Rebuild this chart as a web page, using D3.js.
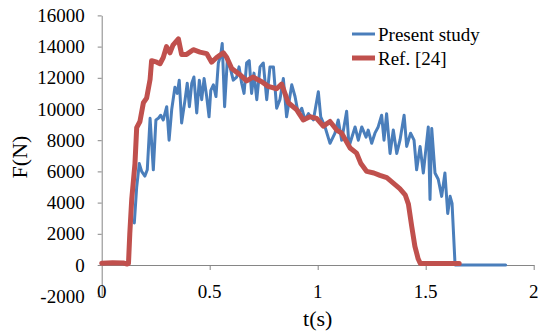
<!DOCTYPE html>
<html>
<head>
<meta charset="utf-8">
<script src="https://cdn.jsdelivr.net/npm/d3@7"></script>
<style>
  body { margin: 0; background: #fff; }
  text { font-family: "Liberation Serif", "Times New Roman", serif; fill: #000; }
</style>
</head>
<body>
<div id="chart"></div>
<script>
// series: Present study (blue)
const blueT = [0.151, 0.162, 0.174, 0.185, 0.2, 0.211, 0.224, 0.239, 0.251, 0.262, 0.273, 0.285, 0.301, 0.312, 0.324, 0.339, 0.35, 0.359, 0.37, 0.386, 0.396, 0.406, 0.417, 0.427, 0.44, 0.452, 0.463, 0.474, 0.486, 0.497, 0.505, 0.517, 0.529, 0.54, 0.551, 0.558, 0.569, 0.582, 0.594, 0.609, 0.625, 0.636, 0.648, 0.659, 0.671, 0.683, 0.694, 0.705, 0.718, 0.733, 0.748, 0.764, 0.779, 0.795, 0.81, 0.825, 0.841, 0.856, 0.88, 0.895, 0.91, 0.926, 0.941, 0.957, 0.98, 1.003, 1.014, 1.034, 1.057, 1.08, 1.095, 1.111, 1.134, 1.145, 1.173, 1.188, 1.204, 1.224, 1.234, 1.25, 1.265, 1.28, 1.296, 1.307, 1.319, 1.335, 1.35, 1.366, 1.381, 1.4, 1.412, 1.43, 1.446, 1.458, 1.474, 1.489, 1.512, 1.52, 1.528, 1.543, 1.558, 1.574, 1.589, 1.602, 1.613, 1.622, 1.636, 1.87];
const blueF = [2700, 5000, 6500, 6000, 5700, 6100, 9400, 6100, 9300, 9400, 9600, 9300, 10150, 8000, 9950, 11400, 11000, 11850, 9100, 10600, 11650, 10150, 11650, 12050, 9750, 11850, 10600, 11950, 10800, 9500, 11200, 11550, 10800, 12950, 13450, 14200, 10150, 13250, 12700, 11850, 12050, 12700, 11650, 11000, 12950, 13100, 11000, 12300, 10600, 12700, 12950, 10600, 12700, 12700, 10050, 10600, 11950, 9500, 11550, 10800, 9700, 10050, 9300, 9700, 9300, 11100, 9500, 8850, 7800, 8450, 9300, 8000, 9850, 7600, 8850, 8000, 8850, 8200, 8650, 7800, 8450, 8850, 9600, 8000, 9700, 7150, 8650, 7150, 8000, 9600, 7600, 8450, 8000, 6100, 7600, 5900, 8850, 4200, 8750, 5900, 5500, 4400, 5900, 3300, 4400, 3950, 0, 0];

// series: Ref. [24] (red)
const redT = [0, 0.05, 0.1, 0.118, 0.124, 0.13, 0.139, 0.154, 0.162, 0.177, 0.193, 0.208, 0.224, 0.231, 0.255, 0.27, 0.285, 0.3, 0.316, 0.33, 0.355, 0.37, 0.393, 0.424, 0.455, 0.486, 0.509, 0.532, 0.563, 0.579, 0.602, 0.64, 0.671, 0.7, 0.741, 0.771, 0.81, 0.833, 0.864, 0.903, 0.933, 0.964, 0.995, 1.026, 1.057, 1.088, 1.111, 1.15, 1.18, 1.2, 1.227, 1.26, 1.288, 1.32, 1.35, 1.38, 1.405, 1.42, 1.435, 1.45, 1.465, 1.475, 1.55, 1.655];
const redF = [120, 150, 130, 60, 100, 2000, 4200, 6500, 8800, 9200, 10400, 10700, 11900, 13100, 13000, 12900, 13300, 14000, 13600, 14100, 14500, 13500, 13500, 13800, 13650, 13550, 13000, 13300, 13600, 13300, 12600, 12200, 11800, 12050, 11750, 11450, 11300, 11600, 10400, 9950, 9300, 9500, 9400, 8900, 9200, 8650, 8450, 7500, 7170, 6500, 6000, 5900, 5750, 5600, 5250, 4900, 4500, 3900, 2500, 1200, 400, 100, 100, 100];

const xTicks = [0, 0.5, 1, 1.5, 2];
const yTicks = [-2000, 0, 2000, 4000, 6000, 8000, 10000, 12000, 14000, 16000];
const seriesNames = ["Present study", "Ref. [24]"];

const W = 538, H = 331;
const blue = "#4a7ebb", red = "#c0504d", axisGray = "#868686";

const svg = d3.select("#chart").append("svg")
    .attr("width", W).attr("height", H);

const x = d3.scaleLinear().domain([0, 2]).range([101.7, 533.7]);
const y = d3.scaleLinear().domain([-2000, 16000]).range([296.2, 15.4]);

// y axis (plain hyphen for negatives, like the source)
const yAxis = svg.append("g")
    .attr("transform", `translate(${x(0)},0)`)
    .call(d3.axisLeft(y).tickValues(yTicks).tickSize(4).tickSizeOuter(0).tickPadding(13).tickFormat(d => String(d)));
yAxis.select(".domain").attr("stroke", axisGray);
yAxis.selectAll(".tick line").attr("stroke", axisGray);
yAxis.selectAll(".tick text").style("font-size", "19px").attr("fill", "#000");

// x axis at F = 0 (no labels)
const xAxis = svg.append("g")
    .attr("transform", `translate(0,${y(0)})`)
    .call(d3.axisBottom(x).tickValues(xTicks.slice(1)).tickSize(5).tickSizeOuter(0).tickFormat(""));
xAxis.select(".domain").attr("stroke", axisGray);
xAxis.selectAll(".tick line").attr("stroke", axisGray);

// x tick labels sit at the bottom of the plot
svg.append("g").selectAll("text")
    .data(xTicks)
    .join("text")
    .attr("x", d => x(d))
    .attr("y", 297.5)
    .attr("text-anchor", "middle")
    .style("font-size", "19px")
    .text(d => d);

// lines
const line = (ts, fs) => d3.line()
    .x((d, i) => x(ts[i]))
    .y(d => y(d))(fs);

svg.append("path")
    .attr("d", line(blueT, blueF))
    .attr("fill", "none")
    .attr("stroke", blue)
    .attr("stroke-width", 3)
    .attr("stroke-linejoin", "round")
    .attr("stroke-linecap", "round");

svg.append("path")
    .attr("d", line(redT, redF))
    .attr("fill", "none")
    .attr("stroke", red)
    .attr("stroke-width", 5)
    .attr("stroke-linejoin", "round")
    .attr("stroke-linecap", "round");

// axis titles
svg.append("text")
    .attr("x", x(1))
    .attr("y", 326)
    .attr("text-anchor", "middle")
    .style("font-size", "22px")
    .text("t(s)");

svg.append("text")
    .attr("transform", "translate(27,157) rotate(-90)")
    .attr("text-anchor", "middle")
    .style("font-size", "22px")
    .text("F(N)");

// legend
const legend = svg.append("g");
const legendColors = [blue, red];
const legendWidths = [3, 5];
seriesNames.forEach((name, i) => {
    const ly = 34 + i * 24;
    legend.append("line")
        .attr("x1", 352).attr("x2", 375)
        .attr("y1", ly).attr("y2", ly)
        .attr("stroke", legendColors[i])
        .attr("stroke-width", legendWidths[i]);
    legend.append("text")
        .attr("x", 378)
        .attr("y", ly + 6.5)
        .style("font-size", "19px")
        .text(name);
});
</script>
</body>
</html>
